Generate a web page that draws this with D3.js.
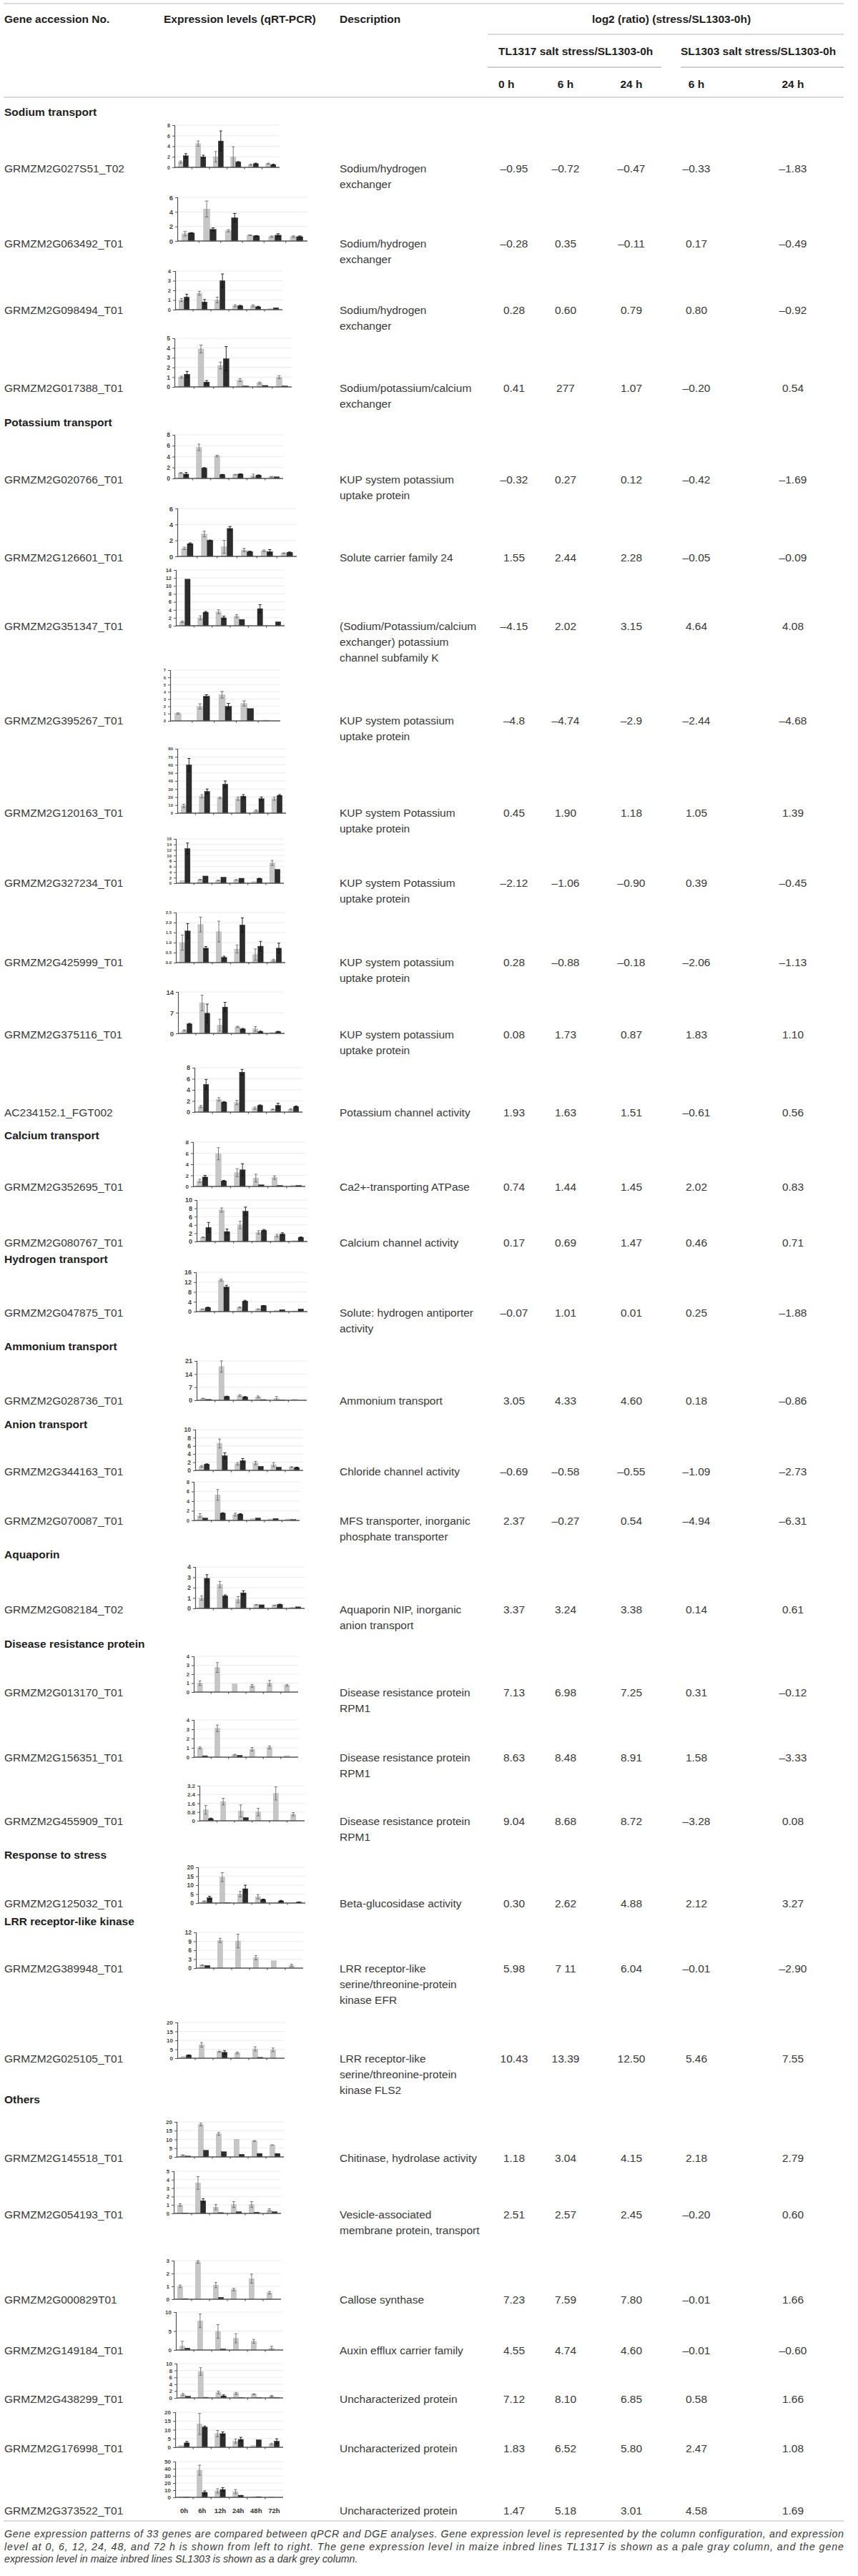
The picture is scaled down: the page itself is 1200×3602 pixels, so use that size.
<!DOCTYPE html>
<html><head><meta charset="utf-8">
<script src="https://cdn.jsdelivr.net/npm/d3@7"></script>
<style>body{margin:0;background:#fff}svg{display:block}</style>
</head><body><svg id="c"></svg>
<script>
// ---------------- DATA ----------------
const timeLabels = ["0h","6h","12h","24h","48h","72h"];
const genes = ["GRMZM2G027S51_T02","GRMZM2G063492_T01","GRMZM2G098494_T01","GRMZM2G017388_T01",
"GRMZM2G020766_T01","GRMZM2G126601_T01","GRMZM2G351347_T01","GRMZM2G395267_T01","GRMZM2G120163_T01",
"GRMZM2G327234_T01","GRMZM2G425999_T01","GRMZM2G375116_T01","AC234152.1_FGT002","GRMZM2G352695_T01",
"GRMZM2G080767_T01","GRMZM2G047875_T01","GRMZM2G028736_T01","GRMZM2G344163_T01","GRMZM2G070087_T01",
"GRMZM2G082184_T02","GRMZM2G013170_T01","GRMZM2G156351_T01","GRMZM2G455909_T01","GRMZM2G125032_T01",
"GRMZM2G389948_T01","GRMZM2G025105_T01","GRMZM2G145518_T01","GRMZM2G054193_T01","GRMZM2G000829T01",
"GRMZM2G149184_T01","GRMZM2G438299_T01","GRMZM2G176998_T01","GRMZM2G373522_T01"];
const descriptions = [
["Sodium/hydrogen","exchanger"],["Sodium/hydrogen","exchanger"],["Sodium/hydrogen","exchanger"],
["Sodium/potassium/calcium","exchanger"],["KUP system potassium","uptake protein"],["Solute carrier family 24"],
["(Sodium/Potassium/calcium","exchanger) potassium","channel subfamily K"],["KUP system potassium","uptake protein"],
["KUP system Potassium","uptake protein"],["KUP system Potassium","uptake protein"],
["KUP system potassium","uptake protein"],["KUP system potassium","uptake protein"],
["Potassium channel activity"],["Ca2+-transporting ATPase"],["Calcium channel activity"],
["Solute: hydrogen antiporter","activity"],["Ammonium transport"],["Chloride channel activity"],
["MFS transporter, inorganic","phosphate transporter"],["Aquaporin NIP, inorganic","anion transport"],
["Disease resistance protein","RPM1"],["Disease resistance protein","RPM1"],["Disease resistance protein","RPM1"],
["Beta-glucosidase activity"],["LRR receptor-like","serine/threonine-protein","kinase EFR"],
["LRR receptor-like","serine/threonine-protein","kinase FLS2"],["Chitinase, hydrolase activity"],
["Vesicle-associated","membrane protein, transport"],["Callose synthase"],["Auxin efflux carrier family"],
["Uncharacterized protein"],["Uncharacterized protein"],["Uncharacterized protein"]];
const log2Values = [
["–0.95","–0.72","–0.47","–0.33","–1.83"],["–0.28","0.35","–0.11","0.17","–0.49"],
["0.28","0.60","0.79","0.80","–0.92"],["0.41","277","1.07","–0.20","0.54"],
["–0.32","0.27","0.12","–0.42","–1.69"],["1.55","2.44","2.28","–0.05","–0.09"],
["–4.15","2.02","3.15","4.64","4.08"],["–4.8","–4.74","–2.9","–2.44","–4.68"],
["0.45","1.90","1.18","1.05","1.39"],["–2.12","–1.06","–0.90","0.39","–0.45"],
["0.28","–0.88","–0.18","–2.06","–1.13"],["0.08","1.73","0.87","1.83","1.10"],
["1.93","1.63","1.51","–0.61","0.56"],["0.74","1.44","1.45","2.02","0.83"],
["0.17","0.69","1.47","0.46","0.71"],["–0.07","1.01","0.01","0.25","–1.88"],
["3.05","4.33","4.60","0.18","–0.86"],["–0.69","–0.58","–0.55","–1.09","–2.73"],
["2.37","–0.27","0.54","–4.94","–6.31"],["3.37","3.24","3.38","0.14","0.61"],
["7.13","6.98","7.25","0.31","–0.12"],["8.63","8.48","8.91","1.58","–3.33"],
["9.04","8.68","8.72","–3.28","0.08"],["0.30","2.62","4.88","2.12","3.27"],
["5.98","7 11","6.04","–0.01","–2.90"],["10.43","13.39","12.50","5.46","7.55"],
["1.18","3.04","4.15","2.18","2.79"],["2.51","2.57","2.45","–0.20","0.60"],
["7.23","7.59","7.80","–0.01","1.66"],["4.55","4.74","4.60","–0.01","–0.60"],
["7.12","8.10","6.85","0.58","1.66"],["1.83","6.52","5.80","2.47","1.08"],
["1.47","5.18","3.01","4.58","1.69"]];
// qRT-PCR relative expression: TL1317 (pale) and SL1303 (dark), with error bars
const tl1317 = [
[1.0,4.5,2.0,2.0,0.5,0.7],[1.0,4.4,1.4,0.8,0.6,0.6],[1.0,1.7,1.0,0.4,0.4,0.1],[1.0,3.9,2.2,0.7,0.4,1.0],
[1.0,5.7,4.1,0.7,0.5,0.3],[1.0,2.8,1.2,0.8,0.7,0.4],[1.0,2.0,3.5,2.4,0,0],[1.0,2.0,3.6,2.4,0.1],
[9,21,19,18,3,18],[1.0,1.3,1.0,1.2,0.6,7.3],[1.0,1.9,1.55,0.68,0.4,0.12],[1.0,10.3,2.8,2.2,1.5,0.3],
[1.0,2.3,1.7,0.7,0.5,0.5],[1.0,5.9,2.5,1.5,1.6,0.2],[1.0,7.6,4.0,2.2,1.4,0.2],[1.0,12.8,1.7,1.0,0.5,0.3],
[1.0,18,2.5,1.8,1.0,0.6],[1.0,6.6,1.6,1.8,1.4,0.8],[1.0,5.3,1.2,0.4,0.3,0.3],[1.0,2.3,0.85,0.35,0.3,0.12],
[1.0,2.75,0.9,0.7,1.0,0.75],[1.0,3.1,0.25,0.85,1.05,0.15],[1.0,1.75,0.9,0.8,2.5,0.6],[1.0,14.5,5.0,3.5,0.2,0.3],
[1.0,9.3,9.1,3.5,2.5,0.9],[1.0,7.5,3.7,3.0,5.2,4.7],[1.0,18.5,13.2,10.1,9.1,6.8],[1.0,3.6,0.75,1.05,1.05,0.4],
[1.0,2.9,1.1,0.75,1.6,0.5],[1.0,7.7,4.9,3.1,2.3,0.5],[1.0,7.7,1.6,1.3,1.1,0.5],[1.0,13.3,7.8,3.5,1.0,1.8],
[1.0,38,9,8,1,0.5]];
const tl1317Err = [
[0.2,0.5,1.0,1.9,0.1,0.1],[0.3,1.1,0.15,0.05,0.1,0.1],[0.15,0.2,0.3,0.1,0.1,0],[0.1,0.4,0.35,0.15,0.1,0.15],
[0.1,0.6,0.15,0.05,0.3,0.05],[0.15,0.35,0.8,0.2,0.1,0.05],[0.2,0.5,0.5,0.4,0,0],[0.1,0.35,0.45,0.35,0],
[2,2,1,2,1,2],[0,0.1,0.1,0.1,0,0.9],[0.38,0.37,0.52,0.2,0.28,0.05],[0.2,2.6,2.0,0.2,0.8,0],
[0.2,0.3,0.4,0.2,0.05,0.1],[0.3,1.1,0.7,0.7,0.3,0],[0.1,0.5,0.9,0.4,0.3,0],[0.1,0.4,0.2,0.1,0,0],
[0.1,3,0.5,0.5,1,0],[0.2,1.1,0.3,0.4,0.5,0.1],[0.4,1.1,0.3,0,0,0],[0.2,0.3,0.3,0.02,0.02,0],
[0.25,0.55,0,0.15,0.3,0.1],[0.1,0.35,0.05,0.2,0.15,0],[0.4,0.3,0.55,0.35,0.6,0.15],[0.2,2.5,1.5,1.2,0,0],
[0.1,0.7,2.3,0.7,0,0.4],[0,1.3,0.3,0.5,1.2,1.0],[0.2,0.8,0.8,0,0.2,0.1],[0.15,0.75,0.3,0.35,0.35,0.15],
[0.1,0.1,0.2,0.1,0.35,0.1],[1.3,1.8,1.8,1.2,0.5,0.5],[0.3,1.1,0.4,0.3,0.1,0.2],[0,6,1.8,1.2,0,0.5],
[0,7,3,3,0,0]];
const sl1303 = [
[2.2,2.0,5.0,1.0,0.7,0.5],[1.1,1.6,3.2,0.7,0.8,0.6],[1.3,0.8,3.0,0.4,0.3,0.2],[1.3,0.5,2.9,0.1,0.15,0.1],
[0.8,1.9,0.7,0.8,0.6,0.3],[1.6,2.0,3.5,0.6,0.6,0.5],[11.7,3.4,2.0,1.6,4.3,1.0],[0,3.4,2.0,1.7,0],
[60,27,36,21,18,22],[12.5,2.6,2.2,1.8,1.7,5.0],[1.58,0.72,0.26,1.88,0.82,0.72],[3.2,6.8,8.9,1.5,0.6,0.6],
[5.0,1.8,7.2,1.2,1.2,1.0],[1.7,1.0,3.0,0.3,0.2,0.2],[3.4,2.4,7.3,2.7,1.8,1.0],[1.7,10.0,4.3,2.4,0.8,1.1],
[0.5,2.0,1.8,0.4,0.2,0],[1.5,3.6,2.4,1.0,0.8,0.7],[0.5,1.5,1.3,0.5,0.4,0.2],[2.9,1.2,1.5,0.35,0.38,0.15],
[0,0,0,0,0,0],[0.15,0,0.2,0,0,0],[0.2,0,0.3,0,0,0],[3.0,0.3,8.0,2.0,1.2,0.5],
[0.9,0,0,0,0,0],[1.7,0,3.3,0,0.5,0],[0.5,3.8,3.0,1.5,2.0,2.0],[0.05,1.5,0.1,0.2,0.15,0.2],
[0.05,0,0.15,0,0,0],[0.5,0,0.3,0,0,0],[0.5,0.2,0.6,0.1,0.1,0.1],[2.5,11.5,7.8,4.5,4.3,3.5],
[0.5,7,11,3,1,0]];
const sl1303Err = [
[0.4,0.3,1.9,0.1,0.1,0.1],[0.05,0.2,0.6,0.05,0.2,0.1],[0.3,0.25,0.7,0.05,0.05,0],[0.3,0.15,1.25,0,0,0],
[0.3,0.1,0.05,0.05,0.05,0],[0.1,0.05,0.25,0.05,0.25,0.05],[0,0.2,0.4,0,1.0,0],[0,0.2,0.4,0,0],
[8,3,4,2,2,1],[2.0,0,0,0,0.1,0],[0.37,0.08,0.06,0.35,0.24,0.25],[0.2,3.1,1.6,0.2,0.2,0.1],
[0.9,0.1,0.5,0.1,0.4,0.1],[0.3,0.1,1.1,0,0,0],[1.2,0.6,1.0,0.2,0.3,0.1],[0.1,0.7,0.3,0.1,0,0],
[0,0.2,0.2,0,0,0],[0.1,0.7,0.5,0,0,0.1],[0,0.1,0.1,0,0,0],[0.35,0.1,0.2,0,0.03,0],
[0,0,0,0,0,0],[0,0,0,0,0,0],[0.05,0,0,0,0,0],[0.8,0,2.0,0.2,0.3,0.1],
[0,0,0,0,0,0],[0.2,0,1.0,0,0,0],[0,0,0,0,0,0],[0,0.25,0,0,0,0],
[0,0,0,0,0,0],[0,0,0,0,0,0],[0,0,0.3,0,0,0],[0.8,0.6,1,1.2,0,1.3],
[0,2,2.5,0,0,0]];
// y-axis tick labels of each mini chart
const yTickLabels = [
["0","2","4","6","8"],["0","2","4","6"],["0","1","2","3","4"],["0","1","2","3","4","5"],
["0","2","4","6","8"],["0","2","4","6"],["0","2","4","6","8","10","12","14"],["0","1","2","3","4","5","6","7"],
["0","10","20","30","40","50","60","70","80"],["0","2","4","6","8","10","12","14","16"],
["0.0","0.5","1.0","1.5","2.0","2.5"],["0","7","14"],
["0","2","4","6","8"],["0","2","4","6","8"],["0","2","4","6","8","10"],["0","4","8","12","16"],
["0","7","14","21"],["0","2","4","6","8","10"],["0","2","4","6","8"],["0","1","2","3","4"],
["0","1","2","3","4"],["0","1","2","3","4"],["0","0.8","1.6","2.4","3.2"],["0","5","10","15","20"],
["0","3","6","9","12"],["0","5","10","15","20"],["0","5","10","15","20"],["0","1","2","3","4","5"],
["0","1","2","3"],["0","5","10"],["0","2","4","6","8","10"],["0","5","10","15","20"],
["0","10","20","30","40","50"]];
const sectionNames = ["Sodium transport","Potassium transport","Calcium transport","Hydrogen transport",
"Ammonium transport","Anion transport","Aquaporin","Disease resistance protein","Response to stress",
"LRR receptor-like kinase","Others"];
const captionLines = [
"Gene expression patterns of 33 genes are compared between qPCR and DGE analyses. Gene expression level is represented by the column configuration, and expression",
"level at 0, 6, 12, 24, 48, and 72 h is shown from left to right. The gene expression level in maize inbred lines TL1317 is shown as a pale gray column, and the gene",
"expression level in maize inbred lines SL1303 is shown as a dark grey column."];

// ---------------- LAYOUT ----------------
const W = 1200, H = 3602;
const rowY   = [235,340,433,542,670,779,875,1007,1136,1234,1345,1446,1555,1659,1737,1835,1958,2057,2126,2250,2366,2457,2546,2661,2752,2878,3017,3096,3215,3286,3354,3423,3510];
const baseY  = [234,337,433,541,669,778,875,1008,1137,1235,1346,1445,1555,1659,1736,1834,1958,2056,2126,2249,2366,2457,2546,2661,2752,2878,3016,3095,3215,3286,3353,3422,3492];
const topY   = [175,276,379,473,608,711,797,937,1047,1173,1276,1387,1493,1597,1678,1779,1903,1999,2072,2191,2316,2405,2497,2611,2702,2828,2967,3036,3161,3233,3305,3373,3442];
const chartX0= [244,248,245,244,244,248,246,238,248,246,246,249,272,270,275,274,275,273,271,273,271,271,279,277,274,248,247,243,243,246,247,245,245];
const chartX1= [391,430,395,408,396,415,398,392,400,397,399,398,423,427,430,430,429,424,419,426,417,417,426,427,424,398,397,393,393,396,396,396,396];
const tickFont=[7,9.5,7.5,8.5,8.5,9.5,7.5,6,6,6,6,9.5,9,8,9,9,9,8.5,7,9,7.5,7.5,8,8.5,8.5,8,8,7.5,8,8,8,8,8];
const sectionY = [156,590,1587,1760,1882,1991,2173,2298,2593,2686,2935];
const colGene = 6, colChart = 229, colDesc = 475;
const valueX = [719,791,883,974,1109];
const FONT = "'Liberation Sans', Arial, Helvetica, sans-serif";

const svg = d3.select("#c").attr("width", W).attr("height", H)
  .attr("viewBox", `0 0 ${W} ${H}`).style("font-family", FONT);
svg.append("rect").attr("width", W).attr("height", H).attr("fill", "#fff");

const lineCol = "#cfcfcf";
function hline(x1, x2, y, w) {
  svg.append("line").attr("x1", x1).attr("x2", x2).attr("y1", y).attr("y2", y)
    .attr("stroke", lineCol).attr("stroke-width", w || 1.5);
}
function text(x, y, s, o) {
  o = o || {};
  return svg.append("text").attr("x", x).attr("y", y).text(s)
    .attr("dominant-baseline", "central")
    .attr("font-size", o.size || 15.5)
    .attr("font-weight", o.bold ? "bold" : "normal")
    .attr("font-style", o.italic ? "italic" : "normal")
    .attr("text-anchor", o.anchor || "start")
    .attr("fill", o.fill || (o.bold ? "#1e1e1e" : "#3a3a3a"));
}

// ---- header ----
hline(5, 1180, 5);
text(colGene, 26, "Gene accession No.", {bold: true});
text(colChart, 26, "Expression levels (qRT-PCR)", {bold: true});
text(colDesc, 26, "Description", {bold: true});
text(939, 26, "log2 (ratio) (stress/SL1303-0h)", {bold: true, anchor: "middle"});
hline(682, 1180, 48);
text(697, 71, "TL1317 salt stress/SL1303-0h", {bold: true});
text(952, 71, "SL1303 salt stress/SL1303-0h", {bold: true});
hline(682, 925, 94, 2); hline(952, 1180, 94, 2);
const timeHead = ["0 h","6 h","24 h","6 h","24 h"];
timeHead.forEach((t, i) => text(i === 0 ? 697 : valueX[i], 117, t, {bold: true, anchor: i === 0 ? "start" : "middle"}));
hline(5, 1180, 136);

// ---- sections ----
sectionNames.forEach((s, i) => text(colGene, sectionY[i], s, {bold: true}));

// ---- rows ----
genes.forEach((g, i) => {
  text(colGene, rowY[i], g);
  descriptions[i].forEach((d, k) => text(colDesc, rowY[i] + k * 22, d));
  log2Values[i].forEach((v, k) => text(valueX[k], rowY[i], v, {anchor: "middle"}));
  drawChart(i);
});

function drawChart(i) {
  const n = tl1317[i].length;
  const labels = yTickLabels[i];
  const ticks = labels.map(Number);
  const yMax = ticks[ticks.length - 1];
  const y = d3.scaleLinear().domain([0, yMax]).range([baseY[i], topY[i]]);
  const x = d3.scaleBand().domain(d3.range(n)).range([chartX0[i], chartX1[i]]).paddingInner(0).paddingOuter(0);
  const gw = x.bandwidth(), bw = gw * 0.29;
  const g = svg.append("g");
  // gridlines
  g.selectAll(".grid").data(ticks.slice(1)).join("line")
    .attr("x1", chartX0[i]).attr("x2", chartX1[i])
    .attr("y1", d => y(d)).attr("y2", d => y(d))
    .attr("stroke", "#ececec").attr("stroke-width", 1);
  // y axis via d3
  const ax = d3.axisLeft(y).tickValues(ticks).tickSize(3).tickPadding(3)
    .tickFormat((d, k) => labels[k]);
  const ga = g.append("g").attr("transform", `translate(${chartX0[i]},0)`).call(ax);
  ga.select(".domain").attr("stroke", "#555").attr("stroke-width", 1.2);
  ga.selectAll(".tick line").attr("stroke", "#555");
  ga.selectAll(".tick text").attr("font-size", tickFont[i]).attr("font-weight", "bold")
    .attr("fill", "#444").attr("font-family", FONT);
  // bars
  const series = [
    {vals: tl1317[i], errs: tl1317Err[i], off: -bw, fill: "#c6c6c6", stroke: "#b0b0b0", ecol: "#6a6a6a"},
    {vals: sl1303[i], errs: sl1303Err[i], off: 0, fill: "#2c2c2c", stroke: "#222", ecol: "#111"}];
  series.forEach(s => {
    g.selectAll(null).data(s.vals.map((v, k) => ({v, k, e: s.errs[k] || 0}))).join("rect")
      .attr("x", d => x(d.k) + gw / 2 + s.off).attr("width", bw)
      .attr("y", d => y(d.v)).attr("height", d => Math.max(0, baseY[i] - y(d.v)))
      .attr("fill", s.fill).attr("stroke", s.stroke).attr("stroke-width", 0.4);
    const eb = s.vals.map((v, k) => ({v, k, e: s.errs[k] || 0})).filter(d => d.e > 0);
    const cx = d => x(d.k) + gw / 2 + s.off + bw / 2;
    g.selectAll(null).data(eb).join("line")
      .attr("x1", cx).attr("x2", cx)
      .attr("y1", d => y(Math.max(0, d.v - d.e))).attr("y2", d => y(d.v + d.e))
      .attr("stroke", s.ecol).attr("stroke-width", 0.9);
    ["top", "bot"].forEach(p => {
      g.selectAll(null).data(eb).join("line")
        .attr("x1", d => cx(d) - bw * 0.28).attr("x2", d => cx(d) + bw * 0.28)
        .attr("y1", d => y(p === "top" ? d.v + d.e : Math.max(0, d.v - d.e)))
        .attr("y2", d => y(p === "top" ? d.v + d.e : Math.max(0, d.v - d.e)))
        .attr("stroke", s.ecol).attr("stroke-width", 0.9);
    });
  });
  // x axis
  g.append("line").attr("x1", chartX0[i]).attr("x2", chartX1[i])
    .attr("y1", baseY[i]).attr("y2", baseY[i]).attr("stroke", "#555").attr("stroke-width", 1.6);
  g.selectAll(null).data(d3.range(1, n)).join("line")
    .attr("x1", k => x(k)).attr("x2", k => x(k))
    .attr("y1", baseY[i]).attr("y2", baseY[i] + 2.5).attr("stroke", "#555").attr("stroke-width", 1.2);
  if (i === genes.length - 1) {
    g.selectAll(null).data(timeLabels).join("text")
      .attr("x", (d, k) => x(k) + gw / 2).attr("y", rowY[i])
      .attr("dominant-baseline", "central").attr("text-anchor", "middle")
      .attr("font-size", 9.5).attr("font-weight", "bold").attr("fill", "#333").text(d => d);
  }
}

// ---- bottom line + caption ----
hline(5, 1180, 3525);
captionLines.forEach((c, k) => {
  const t = text(colGene, 3543 + k * 17.5, c, {italic: true, size: 14.2, fill: "#3a3a3a"});
  if (k < 2) t.attr("textLength", 1174).attr("lengthAdjust", "spacing");
});
</script></body></html>
